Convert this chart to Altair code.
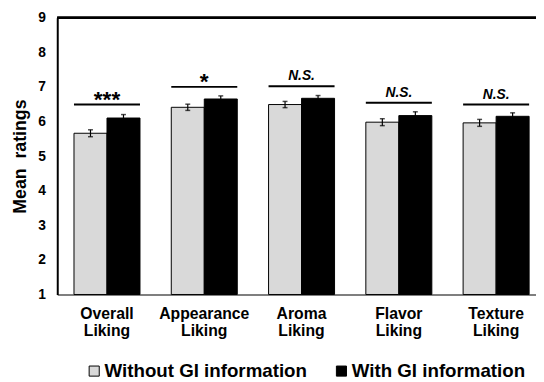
import altair as alt
import pandas as pd

categories = ["Overall Liking", "Appearance Liking", "Aroma Liking", "Flavor Liking", "Texture Liking"]
groups = ["Without GI information", "With GI information"]
without_gi = [5.66, 6.41, 6.49, 5.98, 5.96]
with_gi = [6.10, 6.65, 6.67, 6.17, 6.15]
without_se = [0.10, 0.09, 0.09, 0.10, 0.10]
with_se = [0.10, 0.09, 0.08, 0.11, 0.10]
sig_labels = ["***", "*", "N.S.", "N.S.", "N.S."]
sig_line = [6.49, 7.0, 7.02, 6.54, 6.49]
y_ticks = [1, 2, 3, 4, 5, 6, 7, 8, 9]

rows = []
for i, c in enumerate(categories):
    for g, vals, ses in [(groups[0], without_gi, without_se), (groups[1], with_gi, with_se)]:
        rows.append({"cat": c, "group": g, "value": vals[i],
                     "lo": vals[i] - ses[i], "hi": vals[i] + ses[i]})
df = pd.DataFrame(rows)
sig = pd.DataFrame({"cat": categories, "label": sig_labels, "line": sig_line})

FONT = "Liberation Sans"
W, H = 486, 281

xscale = alt.Scale(domain=categories, range=[0, 496], paddingInner=0.3215, paddingOuter=0.172)
yscale = alt.Scale(domain=[1, 9], zero=False, nice=False)

xaxis = alt.Axis(title=None, labelExpr="split(datum.label, ' ')", labelAngle=0,
                 labelFont=FONT, labelFontSize=16, labelFontWeight="bold",
                 labelColor="black", labelLineHeight=18, labelPadding=11,
                 labelLimit=0, ticks=False, domainColor="#7f7f7f", domainWidth=2)
yaxis = alt.Axis(title="Mean\u00a0\u00a0ratings", values=y_ticks, tickCount=9, format="d",
                 grid=False, ticks=False, labelOverlap=False, labelSeparation=0,
                 labelFont=FONT, labelFontSize=14, labelFontWeight="bold",
                 labelColor="black", labelPadding=12,
                 domainColor="black", domainWidth=2,
                 titleFont=FONT, titleFontSize=18, titleFontWeight="bold",
                 titleColor="black", titleX=-37, titleY=H / 2,
                 titleAngle=-90, titleAlign="center", titleBaseline="middle")


def xs(**kw):
    return alt.X("cat:N", sort=categories, scale=xscale, axis=xaxis, **kw)


def yq(f):
    return alt.Y(f, scale=yscale, axis=yaxis)


xoff = alt.XOffset("group:N", sort=groups)
base = alt.Chart(df)

bars = base.mark_bar(stroke="black", strokeWidth=1).encode(
    x=xs(), xOffset=xoff, y=yq("value:Q"), y2=alt.datum(1),
    color=alt.Color("group:N", sort=groups,
                    scale=alt.Scale(domain=groups, range=["#d9d9d9", "#000000"]),
                    legend=alt.Legend(title=None, orient="none", legendX=28, legendY=349,
                                      direction="horizontal", symbolType="square",
                                      symbolSize=105, symbolStrokeColor="black",
                                      symbolStrokeWidth=1, labelFont=FONT, labelFontSize=19,
                                      labelFontWeight="bold", labelColor="black", labelLimit=0,
                                      columnPadding=25, labelOffset=1, padding=0))
)

err = base.mark_rule(color="black", strokeWidth=1.2).encode(
    x=xs(), xOffset=xoff, y=yq("lo:Q"), y2="hi:Q")
cap_hi = base.mark_tick(color="black", thickness=1.5, size=5, orient="horizontal").encode(
    x=xs(), xOffset=xoff, y=yq("hi:Q"))
cap_lo = base.mark_tick(color="black", thickness=1.5, size=5, orient="horizontal").encode(
    x=xs(), xOffset=xoff, y=yq("lo:Q"))

sig_base = alt.Chart(sig)
sig_rule = sig_base.mark_rule(color="black", strokeWidth=2).encode(
    x=xs(bandPosition=0),
    x2=alt.X2("cat", bandPosition=1),
    y=yq("line:Q"))
sig_star = sig_base.transform_filter(alt.datum.label != "N.S.").mark_text(
    font=FONT, fontSize=23, fontWeight="bold", color="black", baseline="alphabetic", dy=2
).encode(x=xs(bandPosition=0.5), y=yq("line:Q"), text="label:N")
sig_ns = sig_base.transform_filter(alt.datum.label == "N.S.").mark_text(
    font=FONT, fontSize=14, fontWeight="bold", fontStyle="italic", color="black",
    baseline="alphabetic", dy=-6
).encode(x=xs(bandPosition=0.5), y=yq("line:Q"), text="label:N")

# top border of the plot frame
top_line = alt.Chart(sig).mark_rule(color="black", strokeWidth=2).encode(
    y=alt.value(0), x=alt.value(0), x2=alt.value(W))

chart = alt.layer(bars, err, cap_hi, cap_lo, sig_rule, sig_star, sig_ns, top_line).properties(
    width=W, height=H,
    autosize=alt.AutoSizeParams(type="none"),
    padding={"left": 50, "top": 7, "right": 0, "bottom": 86},
).configure_view(stroke=None).configure(font=FONT)

chart.save("out.html", embed_options={"renderer": "svg", "actions": False})
